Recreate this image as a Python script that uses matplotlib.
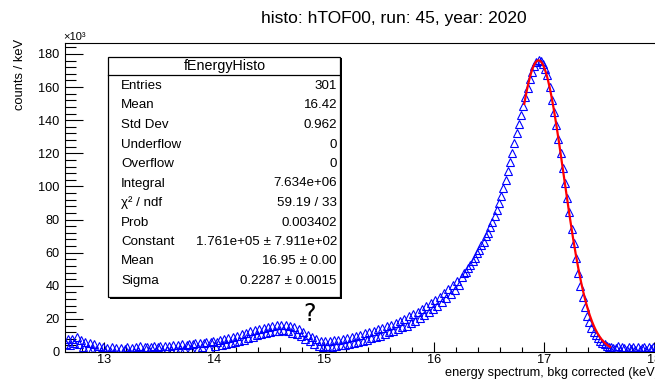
import numpy as np
import matplotlib
matplotlib.use("Agg")
import matplotlib.pyplot as plt
from matplotlib.patches import Rectangle
from matplotlib.lines import Line2D

plt.rcParams['font.family'] = ['Liberation Sans', 'DejaVu Sans']

# ==== Data (counts / keV, in units of 1e3) ====
bin_start = 12.65
bin_width = 0.02
counts_k = [
    5.0, 8.0, 4.0, 7.8, 5.2, 9.0, 4.6, 7.4, 3.2, 6.0,
    2.6, 5.2, 1.8, 4.6, 1.0, 3.8, 0.4, 3.2, 0.2, 2.6,
    0.4, 3.0, -0.4, 2.4, -0.8, 2.6, 0.0, 2.0, 2.8, 0.2,
    2.4, 0.2, 3.0, 0.6, 3.4, 0.3, 2.8, 3.2, 0.5, 2.9,
    3.6, 0.8, 3.2, 3.9, 0.9, 3.4, 1.1, 3.8, 1.5, 4.0,
    1.2, 4.3, 1.8, 4.7, 1.6, 4.0, 5.0, 2.0, 4.6, 5.2,
    2.4, 5.6, 2.8, 5.2, 6.2, 2.6, 5.9, 6.6, 3.4, 6.0,
    7.2, 4.2, 8.0, 4.6, 8.6, 5.4, 9.2, 6.0, 9.8, 6.8,
    10.6, 7.2, 11.4, 8.4, 12.6, 9.2, 13.4, 10.0, 14.0, 10.6,
    14.6, 11.2, 15.3, 11.8, 15.9, 12.5, 16.3, 12.9, 16.4, 13.1,
    16.2, 12.6, 15.6, 11.5, 14.8, 10.6, 13.6, 9.4, 12.2, 8.0,
    10.4, 6.4, 9.2, 5.0, 7.8, 3.6, 6.8, 3.0, 6.4, 3.4,
    6.6, 3.2, 7.2, 3.8, 7.4, 4.0, 8.0, 4.5, 8.4, 5.0,
    9.0, 5.6, 9.6, 6.2, 10.4, 6.8, 11.2, 7.4, 12.0, 8.2,
    12.8, 9.0, 13.6, 9.8, 14.6, 10.8, 15.6, 11.8, 16.6, 12.6,
    17.6, 13.6, 18.8, 14.8, 20.2, 16.0, 21.6, 17.4, 23.0, 18.8,
    24.4, 20.4, 26.0, 22.2, 27.6, 24.0, 29.4, 26.0, 31.4, 28.0,
    33.4, 30.4, 35.6, 32.8, 38.0, 35.2, 40.4, 37.6, 43.0, 40.4,
    45.2, 47.5, 48.6, 51.0, 52.4, 55.0, 56.8, 59.6, 61.5, 64.4,
    66.5, 69.8, 72.0, 75.6, 78.3, 82.0, 85.6, 90.0, 94.2, 99.0,
    104.0, 109.5, 114.6, 120.0, 126.0, 132.0, 137.5, 143.0, 148.5, 153.8,
    159.5, 164.8, 169.0, 172.8, 175.2, 176.5, 175.8, 174.0, 171.2, 167.0,
    160.0, 152.0, 145.0, 137.0, 128.5, 120.0, 111.0, 102.0, 93.0, 84.5,
    74.0, 66.0, 57.0, 48.0, 40.0, 33.0, 27.0, 22.0, 18.0, 14.5,
    12.0, 10.0, 8.2, 6.8, 5.5, 4.6, 3.8, 3.3, 2.9, 2.6,
    2.2, 3.4, 1.4, 3.1, 2.4, 1.2, 3.3, 1.8, 2.9, 1.3,
    3.0, 1.5, 2.6, 3.2, 1.1, 2.8, 1.7, 3.1, 1.4, 2.5,
]
energy = bin_start + bin_width * np.arange(len(counts_k))

# fit result (gaus) from the stats box
fit_const = 1.761e5
fit_mean = 16.95
fit_sigma = 0.2287
fit_range = (16.82, 17.60)

stats_rows = [
    ("Entries", "301"),
    ("Mean", "16.42"),
    ("Std Dev", "0.962"),
    ("Underflow", "0"),
    ("Overflow", "0"),
    ("Integral", "7.634e+06"),
    ("χ² / ndf", "59.19 / 33"),
    ("Prob", "0.003402"),
    ("Constant", "1.761e+05 ± 7.911e+02"),
    ("Mean", "16.95 ± 0.00"),
    ("Sigma", "0.2287 ± 0.0015"),
]

# ==== Figure ====
W, H = 655, 379
fig = plt.figure(figsize=(W / 100, H / 100), dpi=100)

def fx(x):
    return x / W

def fy(y):
    return 1 - y / H

ax_l, ax_r, ax_t, ax_b = 65, 723, 43, 352
ax = fig.add_axes([fx(ax_l), fy(ax_b), (ax_r - ax_l) / W, (ax_b - ax_t) / H])
ax.set_xlim(12.645, 12.645 + (ax_r - ax_l) / 110.0)
ax.set_ylim(0, 186.6)

ax.plot(energy, counts_k, linestyle='none', marker='^', markersize=6,
        markerfacecolor='none', markeredgecolor='#0000ff', markeredgewidth=0.8)

xf = np.linspace(fit_range[0], fit_range[1], 200)
yf = fit_const * np.exp(-0.5 * ((xf - fit_mean) / fit_sigma) ** 2) / 1e3
ax.plot(xf, yf, color='#ff0000', lw=1.6)

ax.set_xticks(np.arange(13, 19, 1))
ax.set_xticks(np.arange(12.8, 18.6, 0.2), minor=True)
ax.set_yticks(np.arange(0, 181, 20))
ax.set_yticks(np.arange(0, 187, 4), minor=True)
ax.tick_params(axis='both', which='both', direction='in', labelsize=9.2, width=0.8)
ax.tick_params(axis='y', which='major', length=13, pad=4)
ax.tick_params(axis='y', which='minor', length=8)
ax.tick_params(axis='x', which='major', length=7.5, pad=1.5)
ax.tick_params(axis='x', which='minor', length=3.8)
for s in ax.spines.values():
    s.set_linewidth(0.8)

# titles and labels
fig.text(fx(394), fy(18), "histo: hTOF00, run: 45, year: 2020", ha='center', va='center', fontsize=12.5)
fig.text(fx(20), fy(74), "counts / keV", rotation=90, ha='center', va='center', fontsize=9.3)
fig.text(fx(63), fy(37), "×10³", ha='left', va='center', fontsize=8)
fig.text(fx(445), fy(373), "energy spectrum, bkg corrected (keV)", ha='left', va='center', fontsize=9.2)
fig.text(fx(310), fy(314), "?", ha='center', va='center', fontsize=17, family='DejaVu Sans')

# stats box
bx_l, bx_r, bx_t, bx_b = 108, 340, 57, 297
fig.add_artist(Rectangle((fx(bx_l) + 1.5 / W, fy(bx_b) - 1.5 / H), (bx_r - bx_l) / W, (bx_b - bx_t) / H,
                         transform=fig.transFigure, facecolor='black', edgecolor='none', zorder=5))
fig.add_artist(Rectangle((fx(bx_l), fy(bx_b)), (bx_r - bx_l) / W, (bx_b - bx_t) / H,
                         transform=fig.transFigure, facecolor='white', edgecolor='black', lw=0.9, zorder=6))
fig.add_artist(Line2D([fx(bx_l), fx(bx_r)], [fy(75), fy(75)], transform=fig.transFigure,
                      color='black', lw=0.9, zorder=7))
fig.text(fx(225), fy(66), "fEnergyHisto", ha='center', va='center', fontsize=10.3, zorder=8)
for i, (name, val) in enumerate(stats_rows):
    y = 86 + i * 19.5
    fig.text(fx(121), fy(y), name, ha='left', va='center', fontsize=9.6, zorder=8)
    fig.text(fx(337), fy(y), val, ha='right', va='center', fontsize=9.6, zorder=8)

fig.savefig("out.png", dpi=100)
